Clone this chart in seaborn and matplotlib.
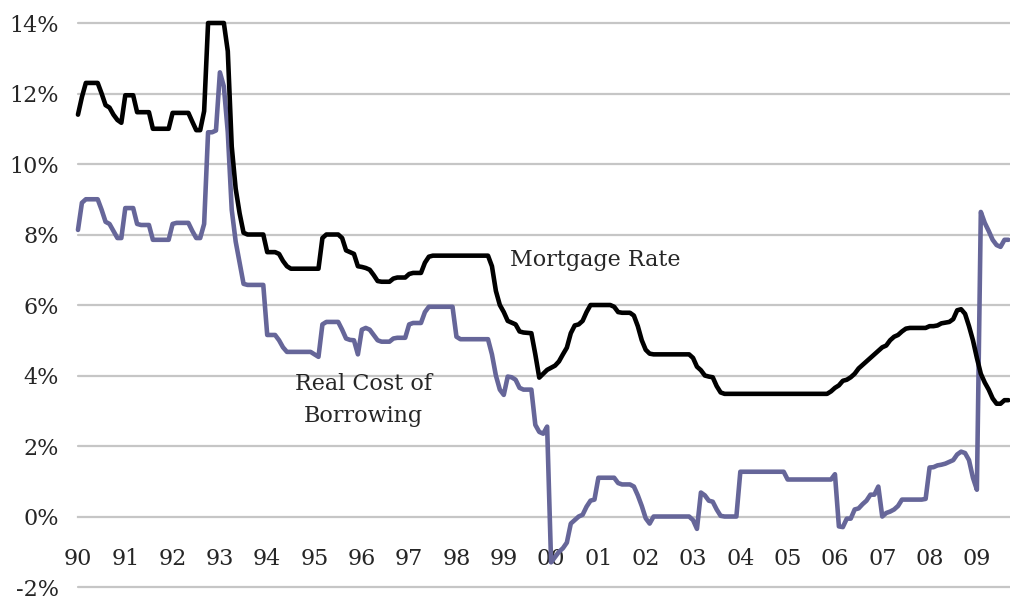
import numpy as np
import pandas as pd
import matplotlib
matplotlib.use("Agg")
import matplotlib.pyplot as plt
import seaborn as sns

# monthly values, Jan 1990 .. Sep 2009 (percent)
mortgage_rate = [
    11.4, 11.9, 12.3, 12.3, 12.3, 12.3, 12.0, 11.67, 11.6, 11.4, 11.25, 11.17,   # 1990
    11.95, 11.95, 11.95, 11.47, 11.47, 11.47, 11.47, 11.0, 11.0, 11.0, 11.0, 11.0,  # 1991
    11.45, 11.45, 11.45, 11.45, 11.45, 11.2, 10.96, 10.96, 11.5, 14.0, 14.0, 14.0,  # 1992
    14.0, 14.0, 13.2, 10.5, 9.3, 8.6, 8.05, 8.0, 8.0, 8.0, 8.0, 8.0,              # 1993
    7.5, 7.5, 7.5, 7.45, 7.25, 7.1, 7.03, 7.03, 7.03, 7.03, 7.03, 7.03,           # 1994
    7.03, 7.03, 7.9, 8.0, 8.0, 8.0, 8.0, 7.9, 7.55, 7.5, 7.45, 7.1,               # 1995
    7.08, 7.05, 7.0, 6.85, 6.68, 6.66, 6.66, 6.66, 6.75, 6.78, 6.78, 6.78,        # 1996
    6.88, 6.91, 6.91, 6.91, 7.2, 7.37, 7.4, 7.4, 7.4, 7.4, 7.4, 7.4,              # 1997
    7.4, 7.4, 7.4, 7.4, 7.4, 7.4, 7.4, 7.4, 7.4, 7.1, 6.4, 6.0,                   # 1998
    5.8, 5.55, 5.5, 5.45, 5.25, 5.22, 5.21, 5.2, 4.6, 3.94, 4.05, 4.16,           # 1999
    4.22, 4.28, 4.4, 4.6, 4.79, 5.2, 5.42, 5.45, 5.55, 5.8, 6.0, 6.0,             # 2000
    6.0, 6.0, 6.0, 6.0, 5.95, 5.8, 5.78, 5.78, 5.78, 5.7, 5.4, 5.0,               # 2001
    4.73, 4.62, 4.6, 4.6, 4.6, 4.6, 4.6, 4.6, 4.6, 4.6, 4.6, 4.6,                 # 2002
    4.5, 4.25, 4.15, 4.0, 3.97, 3.95, 3.7, 3.52, 3.48, 3.48, 3.48, 3.48,          # 2003
    3.48, 3.48, 3.48, 3.48, 3.48, 3.48, 3.48, 3.48, 3.48, 3.48, 3.48, 3.48,       # 2004
    3.48, 3.48, 3.48, 3.48, 3.48, 3.48, 3.48, 3.48, 3.48, 3.48, 3.48, 3.55,       # 2005
    3.65, 3.72, 3.85, 3.88, 3.95, 4.05, 4.2, 4.3, 4.4, 4.5, 4.6, 4.7,             # 2006
    4.8, 4.85, 5.0, 5.1, 5.15, 5.25, 5.33, 5.35, 5.35, 5.35, 5.35, 5.35,          # 2007
    5.4, 5.4, 5.42, 5.48, 5.5, 5.52, 5.6, 5.85, 5.88, 5.75, 5.4, 5.0,             # 2008
    4.5, 4.05, 3.8, 3.6, 3.35, 3.2, 3.2, 3.3, 3.3,                                # 2009
]

real_cost = [
    8.13, 8.9, 9.0, 9.0, 9.0, 9.0, 8.7, 8.36, 8.3, 8.1, 7.9, 7.9,                 # 1990
    8.75, 8.75, 8.75, 8.3, 8.27, 8.27, 8.27, 7.85, 7.85, 7.85, 7.85, 7.85,        # 1991
    8.3, 8.33, 8.33, 8.33, 8.33, 8.1, 7.9, 7.9, 8.3, 10.9, 10.9, 10.95,           # 1992
    12.6, 12.2, 10.9, 8.7, 7.8, 7.2, 6.6, 6.57, 6.57, 6.57, 6.57, 6.57,           # 1993
    5.15, 5.15, 5.15, 5.0, 4.8, 4.67, 4.67, 4.67, 4.67, 4.67, 4.67, 4.67,         # 1994
    4.6, 4.53, 5.45, 5.52, 5.52, 5.52, 5.52, 5.3, 5.05, 5.01, 5.0, 4.6,           # 1995
    5.3, 5.35, 5.3, 5.15, 5.0, 4.96, 4.96, 4.96, 5.05, 5.07, 5.07, 5.07,          # 1996
    5.45, 5.49, 5.49, 5.49, 5.8, 5.95, 5.95, 5.95, 5.95, 5.95, 5.95, 5.95,        # 1997
    5.1, 5.03, 5.03, 5.03, 5.03, 5.03, 5.03, 5.03, 5.03, 4.6, 4.0, 3.6,           # 1998
    3.45, 3.97, 3.95, 3.88, 3.65, 3.6, 3.6, 3.6, 2.6, 2.4, 2.35, 2.55,            # 1999
    -1.3, -1.15, -1.0, -0.9, -0.74, -0.2, -0.1, 0.0, 0.05, 0.28, 0.45, 0.48,      # 2000
    1.1, 1.1, 1.1, 1.1, 1.1, 0.95, 0.91, 0.91, 0.91, 0.85, 0.6, 0.3,              # 2001
    -0.05, -0.2, 0.0, 0.0, 0.0, 0.0, 0.0, 0.0, 0.0, 0.0, 0.0, 0.0,                # 2002
    -0.1, -0.35, 0.68, 0.6, 0.45, 0.42, 0.2, 0.02, 0.0, 0.0, 0.0, 0.0,            # 2003
    1.27, 1.27, 1.27, 1.27, 1.27, 1.27, 1.27, 1.27, 1.27, 1.27, 1.27, 1.27,       # 2004
    1.05, 1.05, 1.05, 1.05, 1.05, 1.05, 1.05, 1.05, 1.05, 1.05, 1.05, 1.05,       # 2005
    1.2, -0.28, -0.3, -0.06, -0.06, 0.2, 0.23, 0.35, 0.45, 0.62, 0.62, 0.85,      # 2006
    0.0, 0.1, 0.14, 0.2, 0.3, 0.48, 0.48, 0.48, 0.48, 0.48, 0.48, 0.5,            # 2007
    1.39, 1.4, 1.45, 1.47, 1.5, 1.55, 1.6, 1.76, 1.84, 1.8, 1.6, 1.1,             # 2008
    0.76, 8.64, 8.33, 8.1, 7.85, 7.7, 7.65, 7.85, 7.85,                           # 2009
]

year_ticks = list(range(1990, 2010))
year_labels = ['90', '91', '92', '93', '94', '95', '96', '97', '98', '99',
               '00', '01', '02', '03', '04', '05', '06', '07', '08', '09']
pct_ticks = [-2, 0, 2, 4, 6, 8, 10, 12, 14]

t = 1990 + np.arange(len(mortgage_rate)) / 12.0
df = pd.DataFrame({'t': t, 'mortgage': mortgage_rate, 'real': real_cost})

sns.set_style('white')
plt.rcParams['font.family'] = ['DejaVu Serif']

fig = plt.figure(figsize=(10.1, 5.99), dpi=100)
ax = fig.add_axes([0.0772, 0.02, 0.9228, 0.9416])

grid_col = '#c6c6c6'
for v in pct_ticks:
    if v != 0:
        ax.axhline(v, color=grid_col, lw=1.6, zorder=0)

sns.lineplot(data=df, x='t', y='real', color='#666699', lw=3.3, ax=ax)
sns.lineplot(data=df, x='t', y='mortgage', color='black', lw=3.3, ax=ax)
for ln in ax.lines:
    ln.set_clip_on(False)

ax.set_xlim(1990, 2009.7)
ax.set_ylim(-2, 14)
ax.set_xlabel('')
ax.set_ylabel('')

for s in ['top', 'right', 'left']:
    ax.spines[s].set_visible(False)
ax.spines['bottom'].set_position(('data', 0))
ax.spines['bottom'].set_color(grid_col)
ax.spines['bottom'].set_linewidth(1.6)
ax.spines['bottom'].set_zorder(0)

ax.set_yticks(pct_ticks)
ax.set_yticklabels([f'{v}%' for v in pct_ticks])
ax.set_xticks(year_ticks)
ax.set_xticklabels(year_labels)
ax.tick_params(axis='x', direction='out', length=8, width=1.6, color=grid_col,
               pad=15, labelsize=16)
ax.tick_params(axis='y', length=0, pad=14, labelsize=16)

ax.text(1999.13, 7.28, 'Mortgage Rate', fontsize=16, ha='left', va='center')
ax.text(1996.03, 3.31, 'Real Cost of\nBorrowing', fontsize=16, ha='center',
        va='center', linespacing=1.55)

fig.savefig('out.png', dpi=100)
